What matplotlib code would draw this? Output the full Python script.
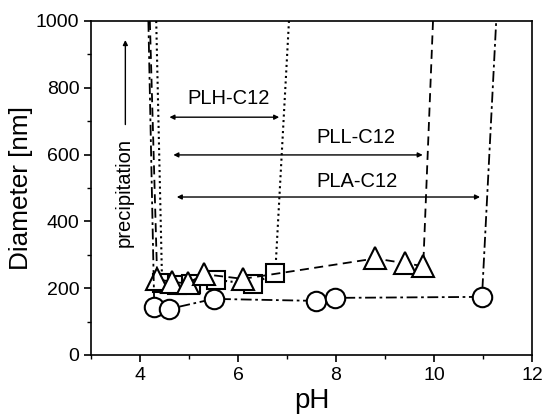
import numpy as np
import matplotlib
matplotlib.use("Agg")
import matplotlib.pyplot as plt

plt.rcParams['font.family'] = ['Liberation Sans', 'DejaVu Sans']

# PLA-C12 (circles, dash-dot); first/last points are where the curve leaves the top
pla_ph = [4.17, 4.29, 4.60, 5.50, 7.59, 7.98, 10.98, 11.27]
pla_d = [1000, 144, 138, 168, 162, 171, 174, 1000]

# PLH-C12 (squares, dotted)
plh_ph = [4.33, 4.45, 4.75, 5.05, 5.55, 6.30, 6.76, 7.04]
plh_d = [1000, 215, 210, 212, 225, 212, 245, 1000]

# PLL-C12 (triangles, dashed)
pll_ph = [4.20, 4.35, 4.65, 4.98, 5.30, 6.10, 8.80, 9.40, 9.78, 9.98]
pll_d = [1000, 228, 218, 215, 242, 228, 289, 275, 266, 1000]

# range arrows: label, left pH, right pH, diameter of arrow, label position
arrow_names = ['PLH-C12', 'PLL-C12', 'PLA-C12']
arrow_left = [4.6, 4.68, 4.75]
arrow_right = [6.84, 9.77, 10.94]
arrow_y = [712, 599, 473]
label_x = [5.8, 8.4, 8.43]
label_y = [768, 652, 518]

fig = plt.figure(figsize=(5.42, 4.15), dpi=100)
ax = fig.add_axes([0.168, 0.1446, 0.8135, 0.8048])

mk = dict(markerfacecolor='white', markeredgecolor='black', markeredgewidth=1.5)
ax.plot(plh_ph, plh_d, color='k', ls=':', lw=1.5, marker='s', ms=13,
        markevery=list(range(1, len(plh_ph) - 1)), zorder=2, **mk)
ax.plot(pll_ph, pll_d, color='k', ls=(0, (5, 3)), lw=1.3, marker='^', ms=16,
        markevery=list(range(1, len(pll_ph) - 1)), zorder=3, **mk)
ax.plot(pla_ph, pla_d, color='k', ls=(0, (6, 2, 1.5, 2)), lw=1.3, marker='o', ms=14,
        markevery=list(range(1, len(pla_ph) - 1)), zorder=4, **mk)

for name, x0, x1, y, tx, ty in zip(arrow_names, arrow_left, arrow_right, arrow_y, label_x, label_y):
    ax.annotate('', xy=(x0, y), xytext=(x1, y),
                arrowprops=dict(arrowstyle='<|-|>', color='k', lw=1.0,
                                mutation_scale=7, shrinkA=0, shrinkB=0))
    ax.text(tx, ty, name, fontsize=14.5, ha='center', va='center')

# precipitation arrow
ax.annotate('', xy=(3.7, 943), xytext=(3.7, 690),
            arrowprops=dict(arrowstyle='-|>', color='k', lw=1.0,
                            mutation_scale=7, shrinkA=0, shrinkB=0))
ax.text(3.68, 488, 'precipitation', rotation=90, fontsize=14.5, ha='center', va='center')

ax.set_xlim(3, 12)
ax.set_ylim(0, 1000)
ax.set_xticks([4, 6, 8, 10, 12])
ax.set_xticks([3, 5, 7, 9, 11], minor=True)
ax.set_yticks([0, 200, 400, 600, 800, 1000])
ax.set_yticks([100, 300, 500, 700, 900], minor=True)
ax.tick_params(which='major', direction='out', length=5, width=1.2, labelsize=14)
ax.tick_params(which='minor', direction='out', length=3, width=1.0)
for s in ax.spines.values():
    s.set_linewidth(1.2)
ax.set_xlabel('pH', fontsize=20, labelpad=3)
ax.set_ylabel('Diameter [nm]', fontsize=18.8, labelpad=2)

fig.savefig('out.png', dpi=100)
